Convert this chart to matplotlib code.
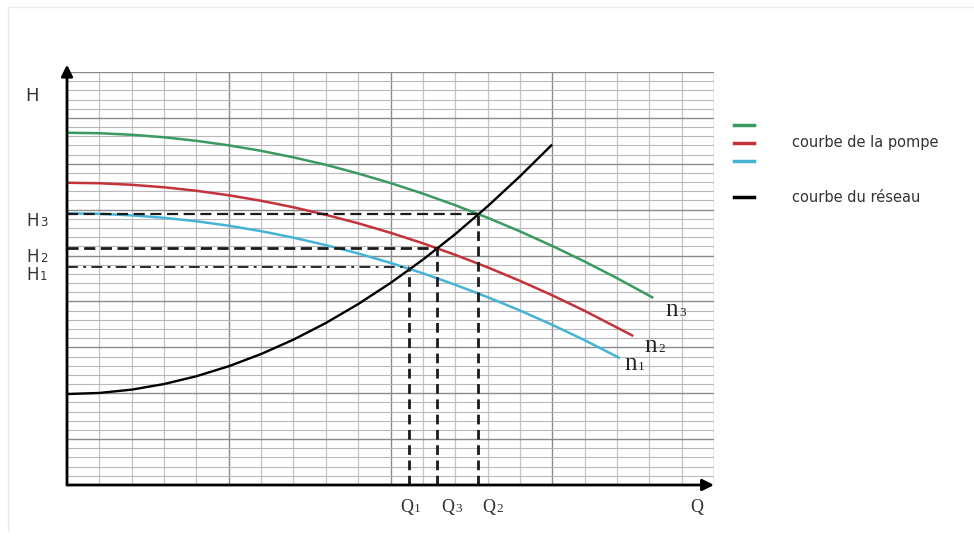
import matplotlib
matplotlib.use("Agg")
import matplotlib.pyplot as plt
from matplotlib.lines import Line2D

# pump curves n1, n2, n3 (grid units)
q_n3 = [0, 1, 2, 3, 4, 5, 6, 7, 8, 9, 10, 11, 12, 13, 14, 15, 16, 17, 18.09]
h_n3 = [38.38, 38.33, 38.16, 37.89, 37.50, 37.01, 36.41, 35.70, 34.89, 33.94,
        32.90, 31.75, 30.49, 29.12, 27.64, 26.05, 24.35, 22.54, 20.45]

q_n2 = [0, 1, 2, 3, 4, 5, 6, 7, 8, 9, 10, 11, 12, 13, 14, 15, 16, 17.47]
h_n2 = [32.93, 32.88, 32.71, 32.44, 32.06, 31.57, 30.97, 30.26, 29.44, 28.52,
        27.48, 26.34, 25.08, 23.72, 22.25, 20.67, 18.98, 16.30]

q_n1 = [0, 1, 2, 3, 4, 5, 6, 7, 8, 9, 10, 11, 12, 13, 14, 15, 16, 17.06]
h_n1 = [29.60, 29.55, 29.38, 29.11, 28.74, 28.25, 27.66, 26.95, 26.14, 25.23,
        24.20, 23.07, 21.82, 20.47, 19.02, 17.45, 15.78, 13.88]

# network curve
q_res = [0, 1, 2, 3, 4, 5, 6, 7, 8, 9, 10, 11, 12, 13, 14, 14.97]
h_res = [9.91, 10.03, 10.39, 11.00, 11.85, 12.94, 14.27, 15.84, 17.65, 19.71,
         22.01, 24.55, 27.33, 30.36, 33.63, 37.00]

# operating points
q_pts = [10.58, 11.45, 12.70]   # Q1, Q3, Q2
h_pts = [23.7, 25.8, 29.5]      # H1, H2, H3

pump_colors = ["#3a9a62", "#c4323a", "#45b3d6"]

fig = plt.figure(figsize=(9.74, 5.37), dpi=100)
ax = fig.add_axes([67/974, 52/537, 647/974, 413/537])
ax.set_xlim(0, 20)
ax.set_ylim(0, 45)

# grid
for x in range(1, 21):
    major = x % 5 == 0
    ax.axvline(x, color="#8a8a8a" if major else "#c4c4c4", lw=1.0 if major else 0.9, zorder=0)
for y in range(1, 46):
    major = y % 5 == 0
    ax.axhline(y, color="#8a8a8a" if major else "#b8b8b8", lw=1.0 if major else 0.8, zorder=0)
ax.set_xticks([])
ax.set_yticks([])
for s in ax.spines.values():
    s.set_visible(False)

# curves
ax.plot(q_n3, h_n3, color=pump_colors[0], lw=1.8)
ax.plot(q_n2, h_n2, color=pump_colors[1], lw=1.8)
ax.plot(q_n1, h_n1, color=pump_colors[2], lw=1.8)
ax.plot(q_res, h_res, color="black", lw=1.7)

# horizontal helper lines
ax.plot([0, q_pts[2]], [h_pts[2], h_pts[2]], color="#1a1a1a", lw=1.6, dashes=(5, 2.5))
ax.plot([0, q_pts[1]], [h_pts[1], h_pts[1]], color="#1a1a1a", lw=2.0, dashes=(4, 2))
ax.plot([0, q_pts[0]], [h_pts[0], h_pts[0]], color="#1a1a1a", lw=1.3, dashes=(6, 3, 1.5, 3))
# vertical helper lines
for q, h in zip(q_pts, h_pts):
    ax.plot([q, q], [0, h], color="#1a1a1a", lw=2.0, dashes=(3.5, 2))

# axes with arrows
ax.annotate("", xy=(0, 45.8), xytext=(0, 0), annotation_clip=False,
            arrowprops=dict(arrowstyle="-|>", color="black", lw=2, mutation_scale=17, shrinkA=0, shrinkB=0))
ax.annotate("", xy=(20, 0), xytext=(0, 0), annotation_clip=False,
            arrowprops=dict(arrowstyle="-|>", color="black", lw=2, mutation_scale=17, shrinkA=0, shrinkB=0))

sans = ["DejaVu Sans"]
serif = ["Liberation Serif", "DejaVu Serif"]


def label(x, y, main, digit, size, dsize, family, color="#333333"):
    # letter right of x, small digit left of x, both on the same baseline
    ax.text(x, y, main, fontsize=size, color=color, ha="right", va="baseline", family=family)
    ax.text(x + 0.03, y, digit, fontsize=dsize, color=color, ha="left", va="baseline", family=family)


ax.text(-1.08, 42.4, "H", fontsize=13, color="#333333", ha="center", va="center", family=sans)
for d, y in zip(["3", "2", "1"], [28.21, 24.29, 22.33]):
    label(-0.87, y, "H", d, 12, 8.5, sans)
for d, x in zip(["1", "3", "2"], [10.70, 11.96, 13.23]):
    label(x, -2.94, "Q", d, 13, 9.5, serif)
ax.text(19.47, -2.94, "Q", fontsize=13, color="#333333", ha="center", va="baseline", family=serif)
for d, x, y in zip(["3", "2", "1"], [18.89, 18.24, 17.62], [18.41, 14.49, 12.53]):
    label(x, y, "n", d, 18, 9.5, serif, "#222222")

# legend drawn by hand
W, H = 974, 537
for c, y in zip(pump_colors + ["black"], [125, 143, 161, 197]):
    fig.add_artist(Line2D([734/W, 754/W], [1 - y/H, 1 - y/H], color=c, lw=2.5))
fig.text(792/W, 1 - 143/H, "courbe de la pompe", fontsize=10.5, color="#333333", va="center", family=sans)
fig.text(792/W, 1 - 197/H, "courbe du réseau", fontsize=10.5, color="#333333", va="center", family=sans)

# faint frame of the original image
fig.add_artist(Line2D([8/W, 8/W], [1 - 7/H, 1 - 530/H], color="#e6e6e6", lw=1))
fig.add_artist(Line2D([8/W, 1], [1 - 7/H, 1 - 7/H], color="#ececec", lw=1))

fig.savefig("out.png", dpi=100)
